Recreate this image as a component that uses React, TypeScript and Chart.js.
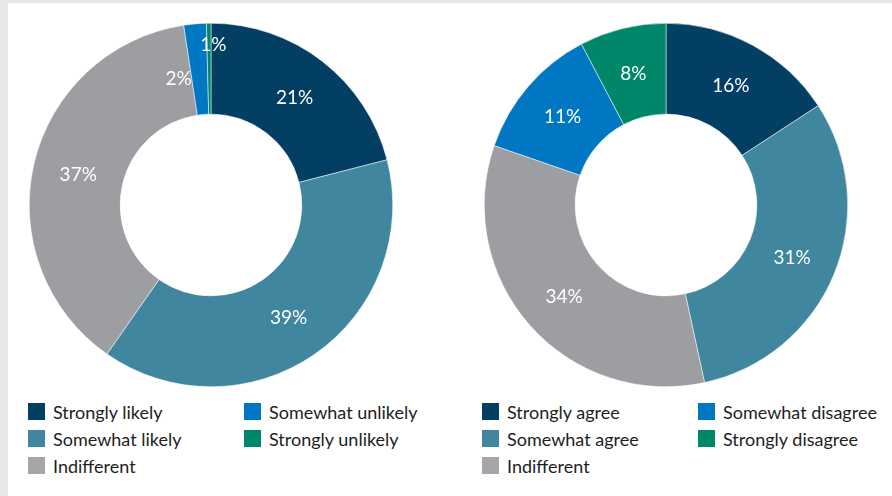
import React, { useEffect, useRef } from "react";
import { Chart, registerables } from "chart.js";

Chart.register(...registerables);

// ---- data ----
const likelyCategories = ["Strongly likely", "Somewhat likely", "Indifferent", "Somewhat unlikely", "Strongly unlikely"];
const likelyValues = [21.0, 38.7, 37.9, 2.0, 0.4];
const likelyLabels = ["21%", "39%", "37%", "2%", "1%"];

const agreeCategories = ["Strongly agree", "Somewhat agree", "Indifferent", "Somewhat disagree", "Strongly disagree"];
const agreeValues = [15.8, 30.8, 33.7, 12.0, 7.7];
const agreeLabels = ["16%", "31%", "34%", "11%", "8%"];

const sliceColors = ["#023f63", "#41869f", "#9d9ea1", "#0077c2", "#00876a"];
const legendColors = ["#023f63", "#41869f", "#a5a6aa", "#0077c2", "#00876a"];

const FONT = "Lato, 'Open Sans', sans-serif";

type Adjust = { dAngleDeg?: number; rFrac?: number };

const sliceLabelPlugin = {
  id: "sliceLabels",
  afterDatasetsDraw(chart: any, _args: any, opts: any) {
    const ctx = chart.ctx;
    const meta = chart.getDatasetMeta(0);
    const texts: string[] = opts.texts || [];
    const adjust: Record<number, Adjust> = opts.adjust || {};
    ctx.save();
    ctx.fillStyle = "#ffffff";
    ctx.font = `19px ${FONT}`;
    ctx.textAlign = "center";
    ctx.textBaseline = "middle";
    meta.data.forEach((arc: any, i: number) => {
      const p = arc.getProps(["x", "y", "startAngle", "endAngle", "innerRadius", "outerRadius"], true);
      const a = adjust[i] || {};
      const mid = (p.startAngle + p.endAngle) / 2 + ((a.dAngleDeg || 0) * Math.PI) / 180;
      const frac = a.rFrac ?? 0.5;
      const r = p.innerRadius + (p.outerRadius - p.innerRadius) * frac;
      ctx.fillText(texts[i], p.x + Math.cos(mid) * r, p.y + Math.sin(mid) * r + 1);
    });
    ctx.restore();
  },
};

function Donut(props: { values: number[]; categories: string[]; texts: string[]; adjust: Record<number, Adjust> }) {
  const ref = useRef<HTMLCanvasElement>(null);
  useEffect(() => {
    if (!ref.current) return;
    const chart = new Chart(ref.current, {
      type: "doughnut",
      data: {
        labels: props.categories,
        datasets: [
          {
            data: props.values,
            backgroundColor: sliceColors,
            borderColor: "#ffffff",
            borderWidth: 0.5,
          },
        ],
      },
      options: {
        animation: false,
        responsive: false,
        maintainAspectRatio: false,
        cutout: "50%",
        layout: { padding: 0 },
        plugins: {
          legend: { display: false },
          tooltip: { enabled: false },
          sliceLabels: { texts: props.texts, adjust: props.adjust },
        } as any,
      },
      plugins: [sliceLabelPlugin],
    });
    return () => chart.destroy();
  }, []);
  return <canvas ref={ref} width={364} height={364} style={{ width: 364, height: 364, display: "block" }} />;
}

function Legend(props: { categories: string[]; colX: number[] }) {
  const rows = 3;
  return (
    <>
      {props.categories.map((c, i) => {
        const col = Math.floor(i / rows);
        const row = i % rows;
        return (
          <div
            key={c}
            style={{
              position: "absolute",
              left: props.colX[col],
              top: 403 + row * 27,
              height: 17,
              display: "flex",
              alignItems: "center",
              whiteSpace: "nowrap",
              fontFamily: FONT,
              fontSize: 18,
              color: "#1e1e1e",
            }}
          >
            <span style={{ width: 17, height: 17, background: legendColors[i], display: "inline-block", marginRight: 8, flex: "none" }} />
            <span>{c}</span>
          </div>
        );
      })}
    </>
  );
}

export default function App() {
  useEffect(() => {
    document.body.style.margin = "0";
    document.body.style.background = "#e7e7e9";
  }, []);
  return (
    <div style={{ position: "relative", width: 892, height: 496, background: "#e7e7e9", overflow: "hidden" }}>
      <div style={{ position: "absolute", left: 8, top: 3, width: 884, height: 493, background: "#ffffff" }} />
      <div style={{ position: "absolute", left: 28.5, top: 23 }}>
        <Donut
          values={likelyValues}
          categories={likelyCategories}
          texts={likelyLabels}
          adjust={{ 3: { dAngleDeg: -9.3, rFrac: 0.44 }, 4: { dAngleDeg: 1.6, rFrac: 0.77 } }}
        />
      </div>
      <div style={{ position: "absolute", left: 483.5, top: 23 }}>
        <Donut values={agreeValues} categories={agreeCategories} texts={agreeLabels} adjust={{}} />
      </div>
      <Legend categories={likelyCategories} colX={[28, 244]} />
      <Legend categories={agreeCategories} colX={[482, 698]} />
    </div>
  );
}
